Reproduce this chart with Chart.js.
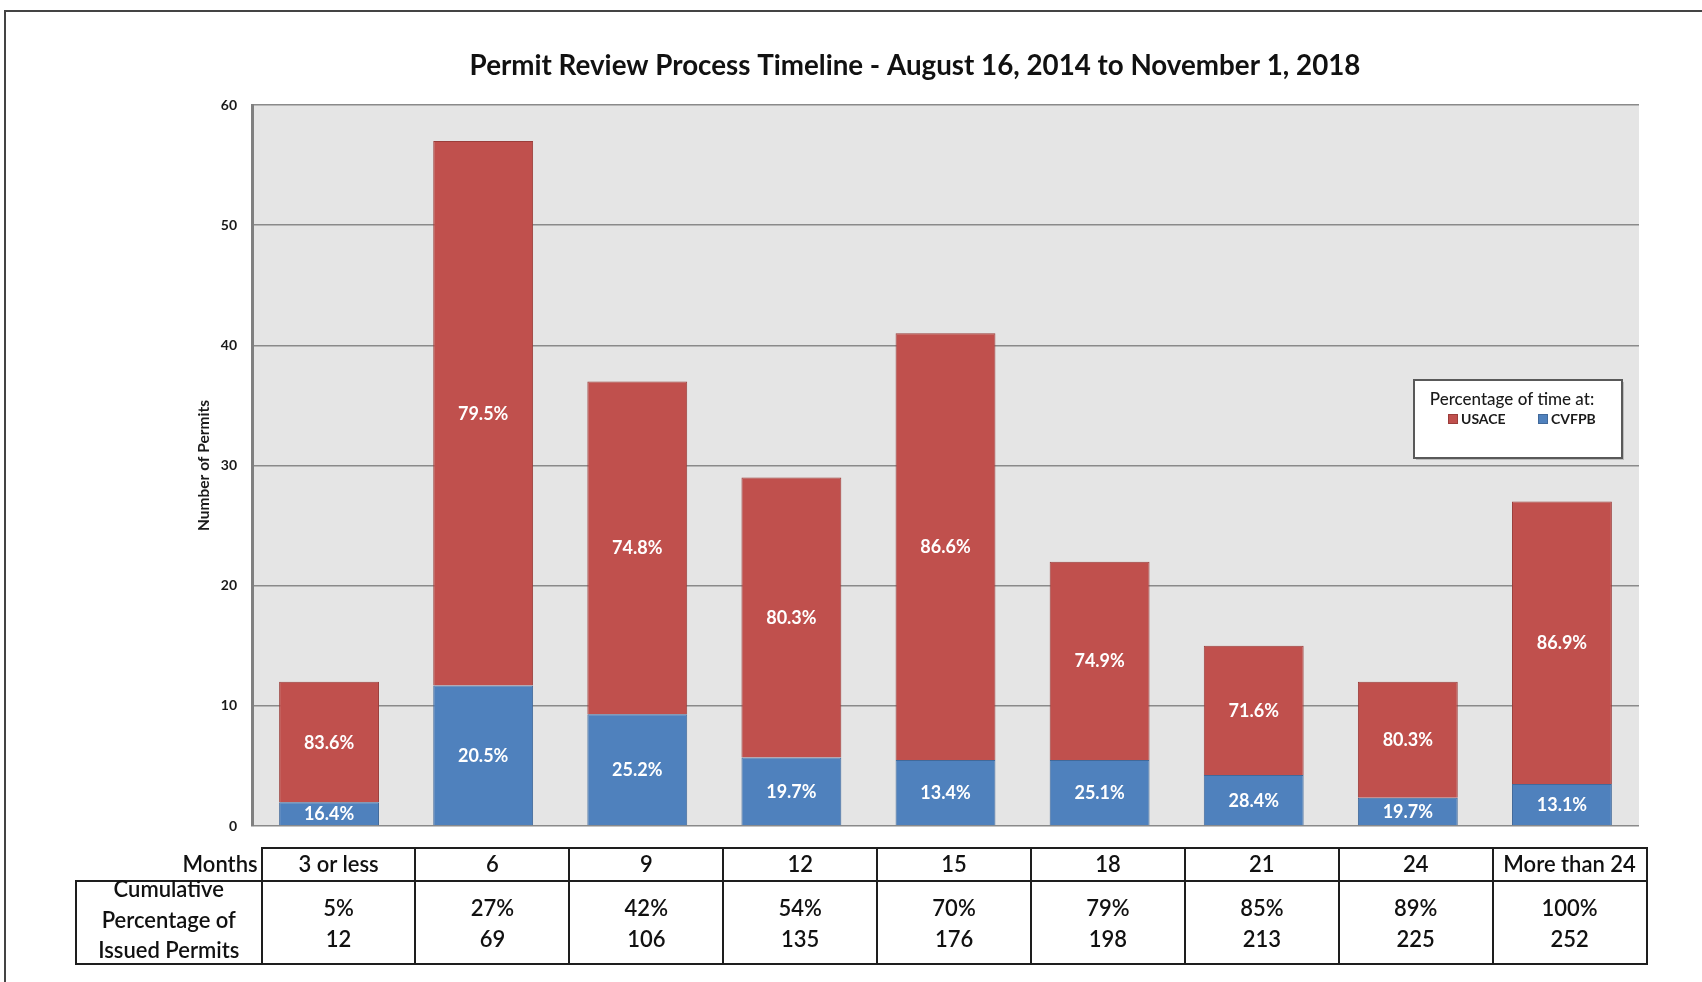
<!DOCTYPE html>
<html><head><meta charset="utf-8">
<script src="https://cdn.jsdelivr.net/npm/chart.js@4.4.1/dist/chart.umd.min.js"></script>
<style>
html,body{margin:0;padding:0;background:#fff;}
#wrap{position:relative;width:1702px;height:982px;overflow:hidden;background:#fff;}
#c{position:absolute;left:0;top:0;}
.ln{position:absolute;background:#1e1e1e;}
.tx{position:absolute;font-family:Lato,'Liberation Sans',sans-serif;font-size:22px;font-weight:600;color:#111;white-space:nowrap;line-height:1;transform:translate(-50%,-50%);}
</style></head><body>
<div id="wrap"><canvas id="c" width="1702" height="982"></canvas><div id="tbl"></div></div>
<script>
// ---- data ----
const categories = ['3 or less', '6', '9', '12', '15', '18', '21', '24', 'More than 24'];
const cvfpbValues = [1.97, 11.7, 9.3, 5.7, 5.5, 5.5, 4.25, 2.35, 3.5];
const usaceValues = [10.03, 45.3, 27.7, 23.3, 35.5, 16.5, 10.75, 9.65, 23.5];
const usacePct = ['83.6%', '79.5%', '74.8%', '80.3%', '86.6%', '74.9%', '71.6%', '80.3%', '86.9%'];
const cvfpbPct = ['16.4%', '20.5%', '25.2%', '19.7%', '13.4%', '25.1%', '28.4%', '19.7%', '13.1%'];
const cumulativePct = ['5%', '27%', '42%', '54%', '70%', '79%', '85%', '89%', '100%'];
const cumulativeCount = ['12', '69', '106', '135', '176', '198', '213', '225', '252'];
const yMin = 0, yMax = 60, yStep = 10;

const titleText = 'Permit Review Process Timeline - August 16, 2014 to November 1, 2018';
const RED = '#C0504D', BLUE = '#4F81BD';
const FONT = "Lato, 'Liberation Sans', sans-serif";

const bgPlugin = {
  id: 'bg',
  beforeDraw(chart) {
    const {ctx, chartArea: a} = chart;
    ctx.save();
    ctx.fillStyle = '#e5e5e5';
    ctx.fillRect(a.left, a.top, a.right - a.left, a.bottom - a.top);
    ctx.restore();
  }
};

const labelPlugin = {
  id: 'pctLabels',
  afterDatasetsDraw(chart) {
    const ctx = chart.ctx;
    ctx.save();
    ctx.fillStyle = '#ffffff';
    ctx.font = 'bold 18px ' + FONT;
    ctx.textAlign = 'center';
    ctx.textBaseline = 'alphabetic';
    chart.data.datasets.forEach((ds, i) => {
      chart.getDatasetMeta(i).data.forEach((el, j) => {
        const cy = (el.y + el.base) / 2;
        ctx.fillText(ds.pctLabels[j], el.x, cy + 6.5);
      });
    });
    ctx.restore();
  }
};

const decorPlugin = {
  id: 'decor',
  afterDraw(chart) {
    const ctx = chart.ctx;
    ctx.save();
    // page frame
    ctx.strokeStyle = '#444';
    ctx.lineWidth = 2;
    ctx.beginPath();
    ctx.moveTo(5, 982); ctx.lineTo(5, 11); ctx.lineTo(1702, 11);
    ctx.stroke();
    // title
    ctx.fillStyle = '#111';
    ctx.textAlign = 'center';
    ctx.textBaseline = 'alphabetic';
    ctx.font = 'bold 26px ' + FONT;
    const w = ctx.measureText(titleText).width;
    const fs = 26 * 891 / w;
    ctx.font = 'bold ' + fs.toFixed(2) + 'px ' + FONT;
    ctx.fillText(titleText, 915, 75);
    // legend box
    ctx.fillStyle = 'rgba(0,0,0,0.18)';
    ctx.fillRect(1416, 382, 208, 78);
    ctx.fillStyle = '#fff';
    ctx.fillRect(1414, 380, 208, 78);
    ctx.strokeStyle = '#595959';
    ctx.lineWidth = 2;
    ctx.strokeRect(1414, 380, 208, 78);
    ctx.fillStyle = '#1a1a1a';
    ctx.font = '500 17px ' + FONT;
    ctx.textAlign = 'center';
    ctx.fillText('Percentage of time at:', 1512, 404.5);
    ctx.textAlign = 'left';
    ctx.font = 'bold 14px ' + FONT;
    const items = chart.data.datasets.slice().reverse();
    const xs = [1448, 1538];
    items.forEach((ds, k) => {
      ctx.fillStyle = ds.backgroundColor;
      ctx.fillRect(xs[k], 414, 10, 10);
      ctx.strokeStyle = ds.borderColor;
      ctx.lineWidth = 1;
      ctx.strokeRect(xs[k] + 0.5, 414.5, 9, 9);
      ctx.fillStyle = '#1a1a1a';
      ctx.fillText(ds.label, xs[k] + 13, 424);
    });
    ctx.restore();
  }
};

const chart = new Chart(document.getElementById('c'), {
  type: 'bar',
  data: {
    labels: categories,
    datasets: [
      {label: 'CVFPB', data: cvfpbValues, pctLabels: cvfpbPct, backgroundColor: BLUE, borderColor: '#41699a', borderWidth: 1, barPercentage: 0.648, categoryPercentage: 1},
      {label: 'USACE', data: usaceValues, pctLabels: usacePct, backgroundColor: RED, borderColor: '#9b3d3a', borderWidth: 1, barPercentage: 0.648, categoryPercentage: 1}
    ]
  },
  options: {
    responsive: false,
    animation: false,
    devicePixelRatio: 1,
    layout: {padding: {left: 180, top: 105, right: 63, bottom: 156}},
    plugins: {legend: {display: false}, title: {display: false}, tooltip: {enabled: false}},
    scales: {
      x: {
        stacked: true,
        grid: {display: false},
        ticks: {display: false},
        border: {display: false},
        afterFit(s) { s.height = 0; }
      },
      y: {
        stacked: true, min: yMin, max: yMax,
        ticks: {stepSize: yStep, padding: 15, color: '#1a1a1a', font: {family: FONT, size: 14, weight: 'bold'}},
        grid: {color: '#8a8a8a', lineWidth: 1.5, drawTicks: false},
        border: {display: true, color: '#808080', width: 3},
        title: {display: true, text: 'Number of Permits', color: '#1a1a1a', font: {family: FONT, size: 15.5, weight: 'bold'}, padding: {top: 15, bottom: 4}},
        afterFit(s) { s.width = 72; }
      }
    }
  },
  plugins: [bgPlugin, labelPlugin, decorPlugin]
});

// ---- table under the chart, columns aligned on the x scale ----
(function buildTable() {
  const tbl = document.getElementById('tbl');
  const xs = chart.scales.x;
  const n = categories.length;
  const colW = (xs.right - xs.left) / n * 0.9985;
  const colStart = xs.left + 9.6;
  const tableLeft = 76, top = 848, mid = 880.5, bottom = 964, lw = 2;
  const right = colStart + n * colW;
  function line(x, y, w, h) {
    const d = document.createElement('div');
    d.className = 'ln';
    d.style.left = x + 'px'; d.style.top = y + 'px';
    d.style.width = w + 'px'; d.style.height = h + 'px';
    tbl.appendChild(d);
  }
  function text(t, cx, cy, extra) {
    const d = document.createElement('div');
    d.className = 'tx';
    d.textContent = t;
    d.style.left = cx + 'px'; d.style.top = cy + 'px';
    if (extra) Object.assign(d.style, extra);
    tbl.appendChild(d);
  }
  line(colStart - 1, top - 1, right - colStart + 2, lw);
  line(tableLeft - 1, mid - 1, right - tableLeft + 2, lw);
  line(tableLeft - 1, bottom - 1, right - tableLeft + 2, lw);
  line(tableLeft - 1, mid - 1, lw, bottom - mid + 2);
  for (let k = 0; k <= n; k++) line(colStart + k * colW - 1, top - 1, lw, bottom - top + 2);
  text('Months', colStart - 4, 864, {transform: 'translate(-100%,-50%)'});
  ['Cumulative', 'Percentage of', 'Issued Permits'].forEach((t, i) => text(t, (tableLeft + colStart) / 2, 889 + i * 30.5));
  categories.forEach((c, i) => {
    const cx = colStart + (i + 0.5) * colW;
    text(c, cx, 864);
    text(cumulativePct[i], cx, 907.5);
    text(cumulativeCount[i], cx, 939);
  });
})();
</script>
</body></html>
